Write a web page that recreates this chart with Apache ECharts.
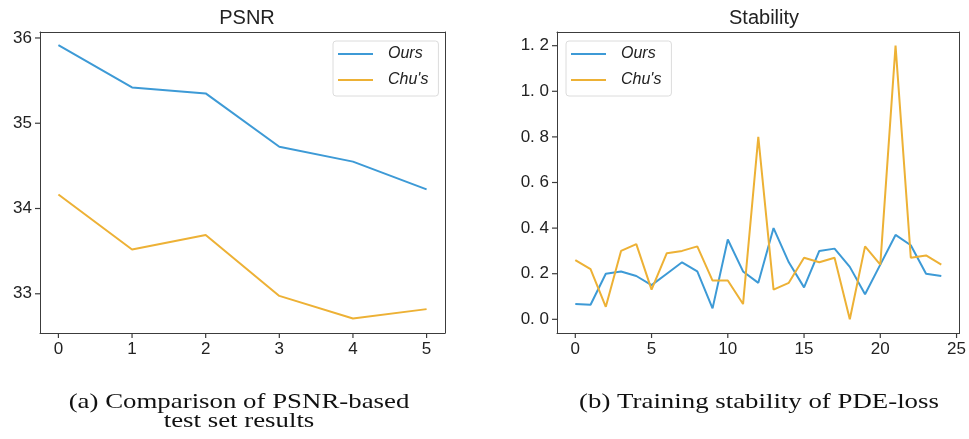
<!DOCTYPE html>
<html>
<head>
<meta charset="utf-8">
<script src="https://cdn.jsdelivr.net/npm/echarts@6/dist/echarts.min.js"></script>
<style>
  html, body { margin: 0; padding: 0; background: #fff; }
  #chart { width: 969px; height: 439px; }
</style>
</head>
<body>
<div id="chart"></div>
<script>
// PSNR on the test set, per run index
const psnrEpochs = [0, 1, 2, 3, 4, 5];
const psnrOurs = [35.915, 35.42, 35.35, 34.725, 34.55, 34.225];
const psnrChu = [34.165, 33.52, 33.69, 32.975, 32.71, 32.82];
const psnrTicksX = [0, 1, 2, 3, 4, 5];
const psnrTicksY = [33, 34, 35, 36];

// PDE-loss stability over training steps
const stabSteps = [0,1,2,3,4,5,6,7,8,9,10,11,12,13,14,15,16,17,18,19,20,21,22,23,24];
const stabOurs = [0.067, 0.064, 0.20, 0.21, 0.19, 0.15, 0.20, 0.25, 0.21, 0.048, 0.35, 0.21, 0.16, 0.40, 0.25, 0.14, 0.30, 0.31, 0.23, 0.11, 0.24, 0.37, 0.325, 0.20, 0.19];
const stabChu = [0.26, 0.22, 0.055, 0.30, 0.33, 0.13, 0.29, 0.30, 0.32, 0.17, 0.17, 0.067, 0.80, 0.13, 0.16, 0.27, 0.25, 0.27, 0.0, 0.32, 0.24, 1.20, 0.27, 0.28, 0.24];
const stabTicksX = [0, 5, 10, 15, 20, 25];
const stabTicksY = [0, 0.2, 0.4, 0.6, 0.8, 1.0, 1.2];

const seriesNames = ['Ours', "Chu's"];
const captionA = '(a) Comparison of PSNR-based\ntest set results';
const captionB = '(b) Training stability of PDE-loss';

// axis extents (data range plus a 5% margin on each side)
const psnrX = [-0.25, 5.25], psnrY = [32.54, 36.07];
const stabX = [-1.2, 25.2], stabY = [-0.06, 1.26];

const BLUE = '#3d9ad6';
const ORANGE = '#edb135';
const INK = '#222';
const FRAME = '#3c3c3c';
const TICK_LEN = 5;
const SANS = '"Liberation Sans", Arial, sans-serif';
const SERIF = '"Liberation Serif", "Times New Roman", serif';

const pair = (xs, ys) => xs.map((x, i) => [x, ys[i]]);

function valueAxis(gridIndex, ext, ticks, pos, fmt, margin) {
  return {
    type: 'value', gridIndex, min: ext[0], max: ext[1], position: pos,
    splitLine: { show: false },
    axisLine: { show: true, onZero: false, lineStyle: { color: FRAME, width: 1 } },
    axisTick: { show: false },
    axisLabel: { show: true, customValues: ticks, margin,
                 color: INK, fontSize: 17, fontFamily: SANS,
                 formatter: fmt || (v => String(v)) }
  };
}

// plain frame edge (top / right side of a plot box)
function edgeAxis(gridIndex, pos) {
  return {
    type: 'value', gridIndex, position: pos, min: 0, max: 1,
    axisLine: { show: true, onZero: false, lineStyle: { color: FRAME, width: 1 } },
    axisTick: { show: false }, axisLabel: { show: false }, splitLine: { show: false }
  };
}

function legendAt(left) {
  return {
    data: seriesNames.map(name => ({ name, icon: 'path://M0,12 L70,12 L70,16 L0,16 Z' })),
    orient: 'vertical', left, top: 41,
    itemWidth: 35, itemHeight: 14, itemGap: 10,
    padding: [5, 10, 8, 5],
    borderColor: '#dcdcdc', borderWidth: 1, borderRadius: 3,
    backgroundColor: 'rgba(255,255,255,0.8)',
    textStyle: { fontStyle: 'italic', fontSize: 16, color: INK, fontFamily: SANS,
                 padding: [0, 0, 0, 10] }
  };
}

function line(name, xi, yi, data, color) {
  return {
    name, type: 'line', xAxisIndex: xi, yAxisIndex: yi, data,
    symbol: 'none', smooth: false, animation: false,
    lineStyle: { color, width: 2 }, itemStyle: { color }
  };
}

function caption(text, x, y) {
  return {
    type: 'text', x, y, scaleX: 1.22, scaleY: 1,
    style: { text, fill: '#111', font: '22px ' + SERIF,
             textAlign: 'center', textVerticalAlign: 'top', lineHeight: 19 }
  };
}

const option = {
  animation: false,
  backgroundColor: '#fff',
  title: [
    { text: 'PSNR', left: 242, top: 3, textAlign: 'center',
      textStyle: { fontSize: 20, fontWeight: 'normal', color: INK, fontFamily: SANS } },
    { text: 'Stability', left: 759, top: 3, textAlign: 'center',
      textStyle: { fontSize: 20, fontWeight: 'normal', color: INK, fontFamily: SANS } }
  ],
  graphic: [
    caption(captionA, 239, 393),
    caption(captionB, 759, 393)
  ],
  legend: [legendAt(333), legendAt(566)],
  grid: [
    { left: 40, top: 32, width: 405, height: 301, show: false },
    { left: 557, top: 32, width: 405, height: 301, show: false }
  ],
  xAxis: [
    valueAxis(0, psnrX, psnrTicksX, 'bottom', null, 8),
    valueAxis(1, stabX, stabTicksX, 'bottom', null, 8),
    edgeAxis(0, 'top'),
    edgeAxis(1, 'top')
  ],
  yAxis: [
    valueAxis(0, psnrY, psnrTicksY, 'left', null, 8),
    valueAxis(1, stabY, stabTicksY, 'left', v => v.toFixed(1).replace('.', '. '), 8),
    edgeAxis(0, 'right'),
    edgeAxis(1, 'right')
  ],
  series: [
    line('Ours', 0, 0, pair(psnrEpochs, psnrOurs), BLUE),
    line("Chu's", 0, 0, pair(psnrEpochs, psnrChu), ORANGE),
    line('Ours', 1, 1, pair(stabSteps, stabOurs), BLUE),
    line("Chu's", 1, 1, pair(stabSteps, stabChu), ORANGE)
  ]
};

const chart = echarts.init(document.getElementById('chart'), null, { renderer: 'canvas' });
chart.setOption(option);

// outward tick marks, positioned through each grid's own axis scales
function tickMarks(gridIndex, xTicks, yTicks, xExt, yExt) {
  const out = [];
  xTicks.forEach(v => {
    const p = chart.convertToPixel({ gridIndex }, [v, yExt[0]]);
    out.push({ type: 'line', silent: true, z: 50,
      shape: { x1: p[0], y1: p[1], x2: p[0], y2: p[1] + TICK_LEN },
      style: { stroke: FRAME, lineWidth: 1.2 } });
  });
  yTicks.forEach(v => {
    const p = chart.convertToPixel({ gridIndex }, [xExt[0], v]);
    out.push({ type: 'line', silent: true, z: 50,
      shape: { x1: p[0], y1: p[1], x2: p[0] - TICK_LEN, y2: p[1] },
      style: { stroke: FRAME, lineWidth: 1.2 } });
  });
  return out;
}

chart.setOption({
  graphic: [
    caption(captionA, 239, 393),
    caption(captionB, 759, 393)
  ].concat(
    tickMarks(0, psnrTicksX, psnrTicksY, psnrX, psnrY),
    tickMarks(1, stabTicksX, stabTicksY, stabX, stabY)
  )
}, { replaceMerge: ['graphic'] });
</script>
</body>
</html>
